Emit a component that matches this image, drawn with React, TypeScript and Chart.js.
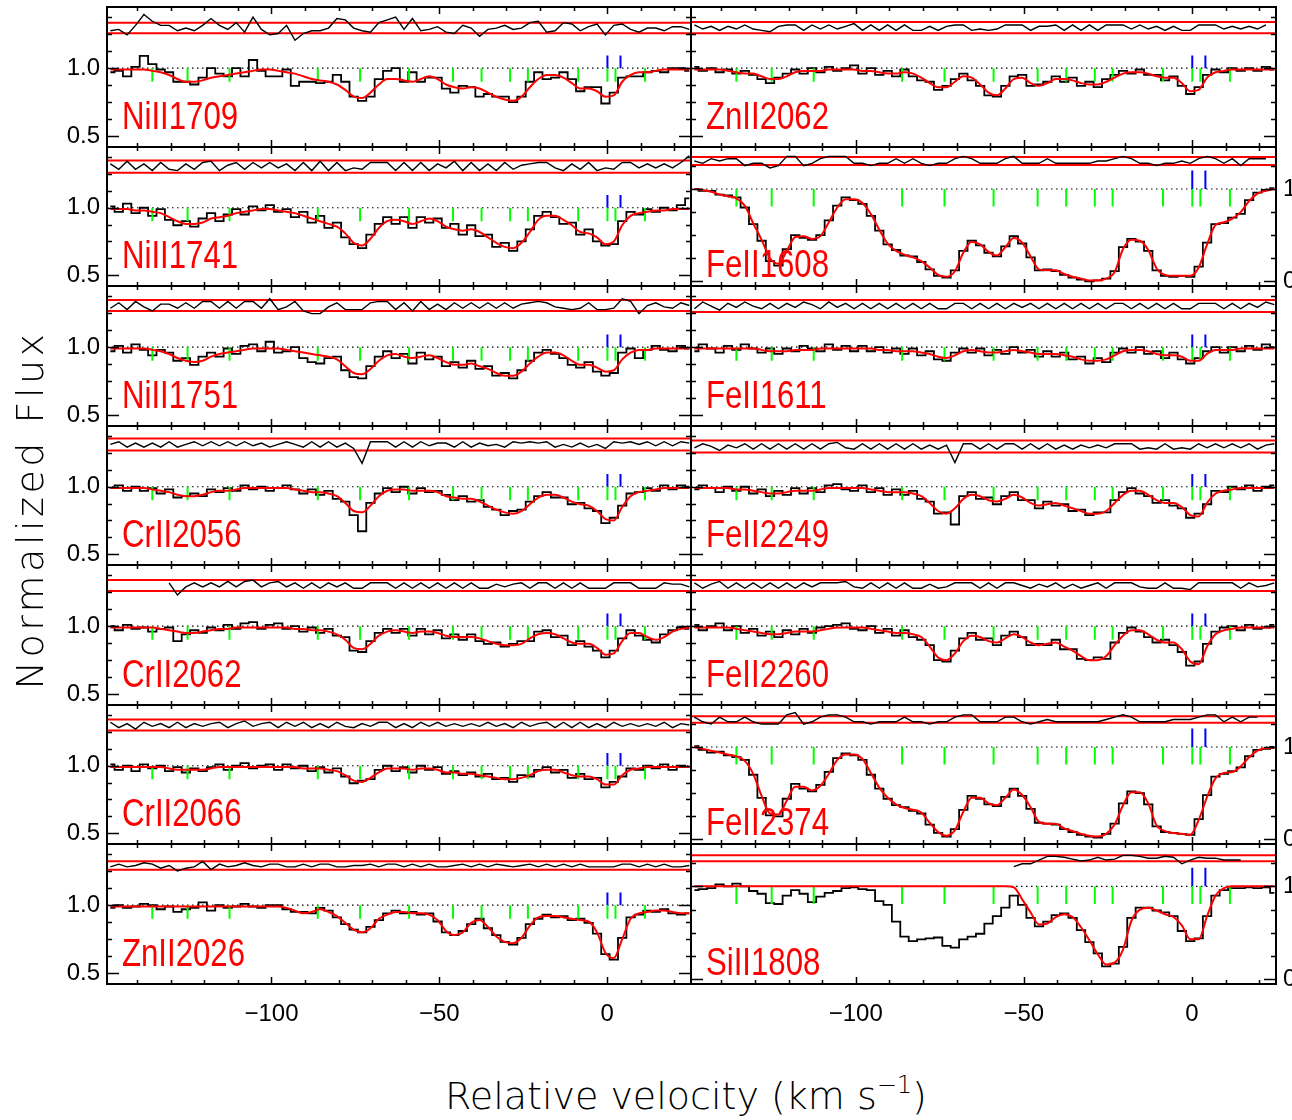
import React, { useEffect, useRef } from "react";
import { Chart, registerables } from "chart.js";

Chart.register(...registerables);

// ---------------- data ----------------
const VELOCITY = [
  -148, -145.5, -143, -140.5, -138, -135.5, -133, -130.5, -128, -125.5,
  -123, -120.5, -118, -115.5, -113, -110.5, -108, -105.5, -103, -100.5,
  -98, -95.5, -93, -90.5, -88, -85.5, -83, -80.5, -78, -75.5,
  -73, -70.5, -68, -65.5, -63, -60.5, -58, -55.5, -53, -50.5,
  -48, -45.5, -43, -40.5, -38, -35.5, -33, -30.5, -28, -25.5,
  -23, -20.5, -18, -15.5, -13, -10.5, -8, -5.5, -3, -0.5,
  2, 4.5, 7, 9.5, 12, 14.5, 17, 19.5, 22, 24.5,
];

const COMPONENT_VELOCITIES = [-135.5, -125, -112.5, -86.2, -73.6, -59, -45.9, -37.4, -28.9, -23.6, -8.6, 0.1, 2.5, 11.3];
const BLUE_VELOCITIES = [0.1, 4.0];

const X_LABEL_TICKS = [-100, -50, 0];
const X_MINOR_TICKS = [-140, -130, -120, -110, -100, -90, -80, -70, -60, -50, -40, -30, -20, -10, 0, 10, 20];
const Y_LABEL_TICKS_NARROW = [0.5, 1.0];
const Y_MINOR_TICKS_NARROW = [0.5, 0.625, 0.75, 0.875, 1.0, 1.125, 1.25, 1.375];
const Y_LABEL_TICKS_WIDE = [0, 1];
const Y_MINOR_TICKS_WIDE = [0, 0.25, 0.5, 0.75, 1, 1.25];

// flux values in percent of the continuum
const NIII1709_FLUX = [
  97, 98, 94, 101, 109, 103, 99, 97, 90, 90,
  88, 93, 100, 96, 94, 100, 94, 106, 98, 94,
  94, 99, 87, 90, 90, 89, 90, 95, 90, 79,
  76, 79, 92, 98, 100, 90, 97, 90, 93, 93,
  85, 82, 87, 86, 79, 81, 79, 79, 75, 79,
  90, 97, 92, 93, 97, 92, 83, 86, 86, 74,
  82, 93, 94, 94, 97, 98, 97, 100, 100, 98,
];
const NIII1709_MODEL = [
  99, 99, 99, 99, 99, 98, 97, 95, 92, 90,
  90, 91, 93, 94, 95, 96, 97, 98, 99, 99,
  98, 97, 96, 94, 92, 91, 90, 88, 84, 79,
  78, 82, 88, 92, 92, 91, 90, 92, 94, 92,
  88, 86, 85, 86, 85, 82, 79, 77, 76, 79,
  86, 92, 95, 95, 93, 89, 85, 85, 83, 79,
  80, 90, 95, 97, 97, 98, 99, 99, 99, 99,
];
const NIII1741_FLUX = [
  101, 97, 103, 96, 100, 94, 99, 91, 87, 90,
  86, 92, 96, 90, 95, 99, 95, 101, 98, 102,
  97, 99, 93, 97, 89, 94, 85, 89, 78, 73,
  70, 80, 88, 93, 88, 93, 85, 93, 89, 92,
  85, 88, 80, 87, 79, 80, 71, 74, 68, 75,
  84, 94, 97, 93, 88, 89, 80, 84, 75, 72,
  73, 90, 97, 95, 99, 97, 100, 98, 102, 107,
];
const NIII1741_MODEL = [
  99, 99, 99, 98, 98, 97, 96, 93, 90, 88,
  88, 89, 92, 93, 94, 96, 97, 98, 99, 99,
  98, 97, 96, 94, 92, 90, 88, 86, 81, 74,
  72, 77, 85, 90, 91, 90, 88, 90, 92, 90,
  86, 84, 83, 84, 82, 78, 74, 71, 70, 74,
  82, 91, 94, 94, 91, 87, 82, 81, 78, 73,
  75, 87, 94, 96, 97, 98, 98, 99, 99, 99,
];
const NIII1751_FLUX = [
  97, 101, 96, 102, 98, 94, 98, 96, 90, 92,
  87, 93, 96, 93, 99, 95, 101, 102, 97, 104,
  96, 97, 100, 92, 89, 88, 92, 93, 83, 78,
  77, 86, 93, 97, 92, 95, 88, 96, 91, 93,
  86, 89, 85, 90, 84, 86, 79, 81, 77, 83,
  90, 96, 98, 95, 92, 87, 85, 89, 82, 79,
  81, 96, 99, 92, 98, 101, 98, 97, 101, 99,
];
const NIII1751_MODEL = [
  99, 99, 99, 99, 99, 98, 97, 95, 92, 90,
  89, 90, 93, 95, 96, 97, 98, 99, 99, 99,
  99, 98, 97, 96, 95, 94, 93, 91, 86, 81,
  80, 84, 90, 94, 95, 93, 92, 93, 94, 92,
  89, 87, 87, 88, 86, 84, 81, 79, 79, 82,
  88, 93, 96, 96, 94, 90, 87, 87, 85, 82,
  83, 91, 96, 98, 98, 99, 99, 99, 99, 99,
];
const CRII2056_FLUX = [
  99, 101, 97, 100, 97, 99, 95, 98, 92, 93,
  95, 93, 98, 96, 99, 97, 101, 98, 100, 97,
  99, 101, 98, 95, 98, 94, 97, 91, 89, 79,
  67, 88, 95, 99, 96, 100, 95, 99, 96, 97,
  94, 90, 93, 89, 90, 85, 83, 79, 82, 83,
  89, 93, 96, 92, 92, 87, 88, 84, 82, 73,
  77, 86, 95, 96, 99, 97, 101, 98, 101, 100,
];
const CRII2056_MODEL = [
  99, 99, 99, 99, 99, 98, 97, 96, 94, 93,
  93, 94, 96, 97, 97, 98, 99, 99, 99, 99,
  99, 99, 98, 97, 96, 96, 95, 93, 88, 82,
  81, 86, 93, 97, 98, 98, 97, 97, 97, 96,
  93, 92, 91, 91, 89, 86, 83, 81, 80, 82,
  87, 92, 94, 94, 92, 89, 87, 86, 82, 76,
  75, 85, 93, 96, 97, 98, 99, 99, 99, 99,
];
const CRII2062_FLUX = [
  100, 97, 101, 98, 99, 96, 98, 99, 89, 94,
  97, 95, 99, 97, 101, 98, 102, 103, 98, 101,
  102, 98, 100, 96, 99, 95, 98, 93, 92, 82,
  81, 89, 95, 98, 95, 98, 93, 98, 94, 97,
  91, 94, 90, 94, 89, 87, 88, 85, 87, 89,
  89, 96, 97, 92, 93, 86, 89, 85, 82, 77,
  82, 91, 97, 93, 90, 88, 94, 97, 99, 98,
];
const CRII2062_MODEL = [
  99, 99, 99, 99, 99, 99, 98, 97, 96, 95,
  95, 96, 97, 98, 98, 99, 99, 99, 99, 99,
  99, 99, 98, 98, 97, 97, 96, 94, 90, 84,
  83, 87, 93, 96, 97, 96, 95, 96, 96, 95,
  93, 92, 92, 92, 91, 89, 87, 86, 86, 87,
  91, 94, 95, 94, 91, 88, 87, 87, 84, 79,
  80, 89, 95, 95, 92, 90, 92, 96, 98, 99,
];
const CRII2066_FLUX = [
  101, 97, 100, 96, 101, 98, 100, 96, 99, 95,
  98, 96, 99, 101, 97, 100, 102, 98, 100, 101,
  97, 101, 98, 100, 96, 99, 95, 98, 92, 87,
  89, 90, 97, 100, 96, 99, 95, 100, 97, 99,
  94, 96, 93, 95, 92, 94, 90, 91, 88, 93,
  92, 97, 99, 95, 97, 91, 94, 90, 91, 84,
  88, 92, 98, 97, 100, 98, 101, 97, 100, 99,
];
const CRII2066_MODEL = [
  99, 99, 99, 99, 99, 99, 99, 98, 97, 97,
  97, 97, 98, 99, 99, 99, 99, 99, 99, 99,
  99, 99, 99, 98, 98, 98, 97, 96, 93, 89,
  88, 91, 95, 98, 98, 98, 97, 98, 98, 97,
  95, 95, 94, 94, 93, 92, 91, 90, 90, 91,
  93, 96, 97, 97, 95, 93, 92, 92, 90, 86,
  86, 93, 97, 98, 99, 99, 99, 99, 99, 99,
];
const ZNII2026_FLUX = [
  98, 100, 98, 99, 101, 100, 97, 99, 95, 97,
  98, 102, 96, 100, 98, 99, 101, 99, 98, 100,
  100, 97, 95, 95, 94, 98, 96, 91, 86, 82,
  80, 84, 89, 94, 96, 94, 95, 93, 94, 88,
  80, 78, 81, 86, 90, 83, 78, 73, 71, 76,
  86, 90, 93, 91, 92, 89, 90, 87, 79, 64,
  60, 76, 91, 93, 96, 95, 97, 94, 93, 94,
];
const ZNII2026_MODEL = [
  99, 99, 99, 99, 99, 99, 99, 99, 99, 99,
  99, 99, 99, 99, 99, 99, 99, 99, 99, 99,
  99, 98, 96, 94, 95, 97, 95, 92, 87, 82,
  80, 83, 90, 93, 95, 95, 94, 94, 93, 89,
  81, 78, 80, 87, 89, 84, 77, 73, 72, 76,
  85, 91, 92, 92, 91, 90, 89, 88, 80, 65,
  61, 75, 90, 94, 95, 96, 96, 95, 94, 94,
];
const ZNII2062_FLUX = [
  101, 98, 100, 97, 99, 96, 98, 95, 92, 89,
  93, 96, 99, 96, 100, 97, 101, 98, 100, 102,
  96, 100, 95, 98, 94, 99, 94, 91, 90, 84,
  87, 92, 96, 91, 87, 80, 79, 87, 94, 95,
  87, 88, 90, 94, 90, 93, 87, 90, 86, 92,
  95, 98, 96, 99, 95, 95, 91, 94, 87, 81,
  86, 95, 99, 97, 100, 98, 100, 98, 101, 99,
];
const ZNII2062_MODEL = [
  99, 99, 99, 99, 98, 97, 96, 96, 94, 92,
  92, 94, 97, 98, 98, 98, 99, 99, 99, 99,
  98, 98, 97, 96, 96, 97, 96, 93, 89, 86,
  86, 90, 94, 93, 88, 82, 80, 85, 92, 93,
  89, 87, 89, 92, 92, 91, 89, 88, 88, 90,
  93, 96, 97, 97, 96, 94, 93, 93, 89, 83,
  84, 93, 97, 98, 99, 99, 99, 99, 99, 99,
];
const FEII1608_FLUX = [
  100, 98, 98, 94, 93, 91, 80, 62, 44, 22,
  17, 35, 50, 47, 45, 50, 66, 82, 91, 88,
  84, 71, 55, 40, 34, 28, 27, 21, 13, 6,
  4, 12, 33, 44, 39, 31, 27, 38, 49, 41,
  26, 12, 13, 11, 7, 4, 2, 0, 1, 3,
  11, 37, 46, 43, 33, 12, 6, 5, 6, 5,
  16, 42, 62, 63, 69, 73, 88, 96, 99, 101,
];
const FEII1608_MODEL = [
  100, 99, 97, 94, 92, 90, 82, 63, 45, 25,
  19, 33, 48, 49, 46, 49, 64, 80, 89, 89,
  85, 73, 56, 41, 33, 29, 26, 22, 15, 7,
  5, 11, 31, 43, 40, 32, 28, 37, 47, 42,
  27, 13, 12, 12, 8, 5, 3, 1, 1, 3,
  10, 35, 45, 44, 34, 14, 7, 6, 6, 6,
  15, 40, 61, 64, 68, 75, 87, 95, 98, 100,
];
const FEII1611_FLUX = [
  97, 102, 99, 96, 101, 98, 102, 99, 96, 99,
  95, 99, 97, 101, 99, 97, 102, 98, 101, 97,
  101, 97, 100, 96, 99, 95, 99, 94, 97, 91,
  90, 96, 99, 96, 99, 94, 98, 95, 100, 96,
  98, 93, 97, 93, 96, 91, 93, 88, 92, 89,
  96, 99, 96, 100, 95, 97, 92, 96, 91, 88,
  92, 97, 100, 96, 100, 97, 101, 98, 102, 100,
];
const FEII1611_MODEL = [
  99, 99, 99, 99, 99, 99, 99, 99, 98, 97,
  97, 97, 98, 98, 98, 99, 99, 99, 99, 99,
  99, 99, 98, 98, 97, 97, 97, 96, 95, 93,
  92, 94, 97, 98, 97, 96, 96, 97, 98, 97,
  96, 95, 95, 95, 94, 93, 91, 90, 90, 91,
  94, 97, 98, 98, 97, 95, 94, 94, 93, 90,
  90, 95, 98, 98, 98, 99, 99, 99, 99, 99,
];
const FEII2249_FLUX = [
  98, 101, 99, 96, 100, 97, 100, 95, 98, 93,
  97, 94, 99, 95, 99, 96, 101, 102, 98, 97,
  101, 96, 99, 94, 98, 94, 97, 91, 89, 80,
  81, 72, 93, 96, 91, 92, 87, 93, 96, 90,
  90, 84, 89, 86, 87, 82, 83, 79, 81, 81,
  90, 96, 99, 95, 93, 88, 90, 86, 84, 77,
  80, 87, 97, 96, 100, 98, 101, 97, 100, 101,
];
const FEII2249_MODEL = [
  99, 99, 99, 99, 99, 98, 98, 97, 96, 95,
  95, 96, 97, 97, 97, 98, 99, 99, 99, 99,
  99, 98, 97, 96, 96, 96, 95, 93, 88, 82,
  80, 84, 91, 94, 93, 90, 89, 91, 94, 92,
  88, 86, 87, 88, 86, 84, 82, 80, 80, 82,
  88, 94, 97, 97, 94, 90, 88, 88, 85, 79,
  78, 88, 95, 97, 98, 99, 99, 99, 99, 99,
];
const FEII2260_FLUX = [
  101, 97, 100, 102, 97, 100, 95, 98, 93, 96,
  92, 97, 94, 98, 95, 99, 100, 101, 102, 98,
  97, 100, 95, 98, 93, 97, 92, 90, 86, 75,
  74, 82, 91, 95, 90, 91, 86, 93, 96, 92,
  86, 87, 86, 90, 83, 83, 76, 75, 77, 76,
  88, 95, 99, 96, 92, 88, 90, 86, 81, 71,
  74, 87, 96, 99, 100, 97, 101, 98, 99, 101,
];
const FEII2260_MODEL = [
  99, 99, 99, 99, 99, 98, 97, 96, 95, 94,
  94, 95, 96, 96, 96, 97, 98, 99, 99, 99,
  99, 98, 97, 96, 95, 95, 94, 92, 85, 77,
  75, 80, 89, 93, 92, 89, 88, 91, 94, 92,
  88, 86, 87, 88, 85, 82, 78, 75, 75, 78,
  86, 93, 97, 97, 94, 90, 88, 88, 83, 74,
  72, 85, 94, 97, 98, 99, 99, 99, 99, 99,
];
const FEII2374_FLUX = [
  101, 97, 94, 95, 91, 89, 86, 70, 45, 26,
  25, 44, 60, 55, 52, 59, 73, 88, 93, 91,
  86, 70, 55, 44, 37, 35, 31, 28, 16, 7,
  3, 11, 32, 47, 44, 38, 36, 46, 55, 47,
  33, 18, 17, 16, 11, 8, 5, 3, 2, 6,
  17, 39, 52, 50, 38, 14, 8, 7, 6, 5,
  22, 48, 68, 71, 74, 78, 90, 97, 98, 100,
];
const FEII2374_MODEL = [
  100, 98, 96, 94, 92, 90, 85, 71, 47, 28,
  27, 42, 57, 57, 53, 58, 71, 86, 92, 92,
  87, 72, 56, 45, 38, 34, 32, 29, 18, 8,
  4, 10, 30, 45, 45, 39, 37, 45, 54, 48,
  35, 19, 17, 17, 12, 9, 6, 4, 3, 6,
  16, 37, 51, 51, 39, 15, 9, 7, 6, 5,
  21, 46, 66, 72, 73, 79, 89, 96, 99, 99,
];
const SIII1808_FLUX = [
  96, 97, 98, 102, 100, 103, 100, 95, 92, 82,
  81, 90, 96, 92, 83, 89, 93, 95, 98, 99,
  97, 96, 84, 80, 62, 46, 41, 43, 44, 45,
  36, 34, 43, 46, 49, 60, 68, 77, 90, 80,
  66, 57, 62, 69, 71, 66, 53, 40, 28, 14,
  17, 35, 66, 77, 77, 74, 72, 68, 52, 41,
  44, 68, 90, 96, 98, 98, 99, 98, 99, 93,
];
const SIII1808_MODEL = [
  100, 100, 100, 100, 100, 100, 100, 100, 100, 100,
  100, 100, 100, 100, 100, 100, 100, 100, 100, 100,
  100, 100, 100, 100, 100, 100, 100, 100, 100, 100,
  100, 100, 100, 100, 100, 100, 100, 100, 99, 86,
  72, 59, 60, 67, 70, 67, 56, 42, 27, 16,
  18, 32, 63, 75, 77, 74, 70, 67, 58, 43,
  43, 68, 90, 98, 100, 100, 100, 100, 100, 100,
];

const PANEL_LABELS = [
  "NiII1709", "NiII1741", "NiII1751", "CrII2056", "CrII2062", "CrII2066", "ZnII2026",
  "ZnII2062", "FeII1608", "FeII1611", "FeII2249", "FeII2260", "FeII2374", "SiII1808",
];
const PANEL_FLUX = [
  NIII1709_FLUX, NIII1741_FLUX, NIII1751_FLUX, CRII2056_FLUX, CRII2062_FLUX, CRII2066_FLUX, ZNII2026_FLUX,
  ZNII2062_FLUX, FEII1608_FLUX, FEII1611_FLUX, FEII2249_FLUX, FEII2260_FLUX, FEII2374_FLUX, SIII1808_FLUX,
];
const PANEL_MODEL = [
  NIII1709_MODEL, NIII1741_MODEL, NIII1751_MODEL, CRII2056_MODEL, CRII2062_MODEL, CRII2066_MODEL, ZNII2026_MODEL,
  ZNII2062_MODEL, FEII1608_MODEL, FEII1611_MODEL, FEII2249_MODEL, FEII2260_MODEL, FEII2374_MODEL, SIII1808_MODEL,
];
const RESID_LOW = [1.256, 1.26, 1.266, 1.269, 1.258, 1.261, 1.26, 1.257, 1.259, 1.258, 1.254, 1.258, 1.263, 1.27];
const RESID_HIGH = [1.334, 1.35, 1.347, 1.358, 1.34, 1.343, 1.324, 1.339, 1.348, 1.347, 1.343, 1.34, 1.334, 1.335];
const RESID_SCALE = [1, 1, 1, 1, 1, 1, 1, 1, 2.5, 1, 1, 1, 2.5, 1];
const RESID_FIRST = [0, 0, 0, 0, 7, 0, 0, 0, 0, 0, 0, 0, 0, 38];
const RESID_LAST = [69, 69, 69, 69, 69, 69, 69, 68, 68, 69, 69, 69, 67, 65];

// ---------------- layout ----------------
const PANEL_COL = [0, 0, 0, 0, 0, 0, 0, 1, 1, 1, 1, 1, 1, 1];
const PANEL_ROW = [0, 1, 2, 3, 4, 5, 6, 0, 1, 2, 3, 4, 5, 6];
const PANEL_WIDE = [false, false, false, false, false, false, false, false, true, false, false, false, true, true];

const X_MIN = -149;
const X_MAX = 25;
const NARROW_RANGE = [0.42, 1.45];
const WIDE_RANGE = [-0.05, 1.455];
const ML = 70, MR = 30, MT = 30, MB = 60;
const COL_LEFT = [107, 691];
const COL_WIDTH = [584, 585];
const ROW_TOP = [7, 147, 286, 426, 565, 705, 844, 984];
const LABEL_VELOCITY = -144.6;
const LABEL_FLUX_NARROW = 0.55;
const LABEL_FLUX_WIDE = 0.05;
const LABEL_SIZE = 38;
const TITLE_SIZE = 38;
const TICK_FONT = { family: "'Liberation Sans', Arial, Helvetica, sans-serif", size: 24 };
const RED = "#ff0000";
const GREEN = "#00ff00";
const BLUE = "#0000ff";

function minusLabel(v: number): string {
  return v < 0 ? "\u2212" + Math.abs(v) : String(v);
}

function Panel({ index }: { index: number }) {
  const ref = useRef<HTMLCanvasElement | null>(null);
  const col = PANEL_COL[index];
  const row = PANEL_ROW[index];
  const wide = PANEL_WIDE[index];
  const w = COL_WIDTH[col];
  const h = ROW_TOP[row + 1] - ROW_TOP[row];
  const W = ML + w + MR;
  const H = MT + h + MB;

  useEffect(() => {
    const flux = PANEL_FLUX[index];
    const model = PANEL_MODEL[index];
    const [yMin, yMax] = wide ? WIDE_RANGE : NARROW_RANGE;
    const toPoints = (arr: number[]) => VELOCITY.map((v, k) => ({ x: v, y: arr[k] / 100 }));
    const center = (RESID_LOW[index] + RESID_HIGH[index]) / 2;
    const residual = VELOCITY.map((v, k) => ({
      x: v,
      y: k >= RESID_FIRST[index] && k <= RESID_LAST[index]
        ? center + (RESID_SCALE[index] * (flux[k] - model[k])) / 100
        : null,
    }));
    const hline = (y: number) => [{ x: X_MIN, y }, { x: X_MAX, y }];
    const marks = (vs: number[], y0: number, y1: number) =>
      vs.flatMap((v) => [{ x: v, y: y0 }, { x: v, y: y1 }, { x: v, y: null as any }]);
    const gLen = wide ? 0.19 : 0.1;
    const bLen = wide ? 0.2 : 0.094;
    const yLabelTicks = wide ? Y_LABEL_TICKS_WIDE : Y_LABEL_TICKS_NARROW;
    const yMinorTicks = wide ? Y_MINOR_TICKS_WIDE : Y_MINOR_TICKS_NARROW;

    const base = { pointRadius: 0, pointHoverRadius: 0, fill: false };
    const noGrid = { display: false, drawTicks: false, tickLength: 0 };

    const framePlugin = {
      id: "panelFrame",
      afterDatasetsDraw(c: any) {
        const { ctx, chartArea: a } = c;
        const xs = c.scales.x;
        const ys = c.scales.y;
        ctx.save();
        ctx.strokeStyle = "#000";
        ctx.lineWidth = 1.5;
        ctx.beginPath();
        X_MINOR_TICKS.forEach((v) => {
          const px = Math.round(xs.getPixelForValue(v)) + 0.5;
          const len = X_LABEL_TICKS.includes(v) ? 7 : 4;
          ctx.moveTo(px, a.bottom);
          ctx.lineTo(px, a.bottom - len);
          ctx.moveTo(px, a.top);
          ctx.lineTo(px, a.top + len);
        });
        yMinorTicks.forEach((v) => {
          if (v < yMin || v > yMax) return;
          const py = Math.round(ys.getPixelForValue(v)) + 0.5;
          const len = yLabelTicks.includes(v) ? 12 : 5;
          ctx.moveTo(a.left, py);
          ctx.lineTo(a.left + len, py);
          ctx.moveTo(a.right, py);
          ctx.lineTo(a.right - len, py);
        });
        ctx.stroke();
        ctx.lineWidth = 2;
        ctx.strokeRect(a.left, a.top, a.right - a.left, a.bottom - a.top);
        ctx.restore();
      },
    };

    const chart = new Chart(ref.current as HTMLCanvasElement, {
      type: "line",
      data: {
        datasets: [
          { ...base, data: toPoints(model), borderColor: RED, borderWidth: 2, cubicInterpolationMode: "monotone" },
          { ...base, data: marks(COMPONENT_VELOCITIES, 1, 1 - gLen), borderColor: GREEN, borderWidth: 2 },
          { ...base, data: marks(BLUE_VELOCITIES, 1, 1 + bLen), borderColor: BLUE, borderWidth: 2 },
          { ...base, data: toPoints(flux), borderColor: "#000", borderWidth: 1.8, stepped: "middle" },
          { ...base, data: residual, borderColor: "#000", borderWidth: 1.4 },
          { ...base, data: hline(RESID_LOW[index]), borderColor: RED, borderWidth: 2 },
          { ...base, data: hline(RESID_HIGH[index]), borderColor: RED, borderWidth: 2 },
          { ...base, data: hline(1), borderColor: "#000", borderWidth: 1.2, borderDash: [1.5, 3.5] },
        ] as any,
      },
      options: {
        responsive: false,
        animation: false,
        devicePixelRatio: 1,
        events: [],
        layout: { padding: { top: MT, left: 0, right: 0, bottom: 0 } },
        plugins: { legend: { display: false }, tooltip: { enabled: false } },
        scales: {
          x: {
            type: "linear",
            min: X_MIN,
            max: X_MAX,
            grid: noGrid,
            border: { display: false },
            ticks: {
              display: row === 6,
              font: TICK_FONT,
              color: "#000",
              padding: 16,
              maxRotation: 0,
              autoSkip: false,
              callback: (v: any) => minusLabel(Number(v)),
            },
            afterBuildTicks: (s: any) => {
              s.ticks = X_LABEL_TICKS.map((value) => ({ value }));
            },
            afterFit: (s: any) => {
              s.height = MB;
            },
          },
          y: {
            type: "linear",
            position: "left",
            min: yMin,
            max: yMax,
            grid: noGrid,
            border: { display: false },
            ticks: {
              display: col === 0,
              font: TICK_FONT,
              color: "#000",
              padding: 7,
              callback: (v: any) => Number(v).toFixed(1),
            },
            afterBuildTicks: (s: any) => {
              s.ticks = yLabelTicks.map((value) => ({ value }));
            },
            afterFit: (s: any) => {
              s.width = ML;
            },
          },
          y2: {
            type: "linear",
            position: "right",
            min: yMin,
            max: yMax,
            grid: noGrid,
            border: { display: false },
            ticks: {
              display: wide,
              font: TICK_FONT,
              color: "#000",
              padding: 7,
              callback: (v: any) => String(v),
            },
            afterBuildTicks: (s: any) => {
              s.ticks = Y_LABEL_TICKS_WIDE.map((value) => ({ value }));
            },
            afterFit: (s: any) => {
              s.width = MR;
            },
          },
        },
      } as any,
      plugins: [framePlugin],
    });
    return () => chart.destroy();
  }, [index]);

  return (
    <canvas
      ref={ref}
      width={W}
      height={H}
      style={{ position: "absolute", left: COL_LEFT[col] - ML, top: ROW_TOP[row] - MT, width: W, height: H }}
    />
  );
}

function PanelLabel({ index }: { index: number }) {
  const col = PANEL_COL[index];
  const row = PANEL_ROW[index];
  const wide = PANEL_WIDE[index];
  const w = COL_WIDTH[col];
  const h = ROW_TOP[row + 1] - ROW_TOP[row];
  const [yMin, yMax] = wide ? WIDE_RANGE : NARROW_RANGE;
  const lf = wide ? LABEL_FLUX_WIDE : LABEL_FLUX_NARROW;
  const left = COL_LEFT[col] + ((LABEL_VELOCITY - X_MIN) / (X_MAX - X_MIN)) * w;
  const baseline = ROW_TOP[row] + ((yMax - lf) / (yMax - yMin)) * h;
  return (
    <div
      style={{
        position: "absolute",
        left,
        top: baseline - 0.8465 * LABEL_SIZE,
        fontFamily: "'Liberation Sans', Arial, Helvetica, sans-serif",
        fontSize: LABEL_SIZE,
        lineHeight: 1,
        color: RED,
        whiteSpace: "nowrap",
        transform: "scaleX(0.82)",
        transformOrigin: "0 0",
      }}
    >
      {PANEL_LABELS[index]}
    </div>
  );
}

export default function App() {
  const titleFont = "'DejaVu Sans', Verdana, sans-serif";
  return (
    <div
      style={{
        position: "absolute",
        left: 0,
        top: 0,
        width: 1292,
        height: 1120,
        overflow: "hidden",
        background: "#fff",
      }}
    >
      {PANEL_LABELS.map((_, i) => (
        <Panel key={"p" + i} index={i} />
      ))}
      {PANEL_LABELS.map((_, i) => (
        <PanelLabel key={"l" + i} index={i} />
      ))}
      <div
        style={{
          position: "absolute",
          left: 30 - 300,
          top: 510 - TITLE_SIZE / 2,
          width: 600,
          height: TITLE_SIZE,
          fontFamily: titleFont,
          fontWeight: 200,
          fontSize: TITLE_SIZE,
          lineHeight: 1,
          letterSpacing: 3.5,
          textAlign: "center",
          whiteSpace: "nowrap",
          color: "#000",
          transform: "rotate(-90deg)",
          transformOrigin: "50% 50%",
        }}
      >
        Normalized Flux
      </div>
      <div
        style={{
          position: "absolute",
          left: 686 - 400,
          top: 1109 - 0.846 * TITLE_SIZE,
          width: 800,
          fontFamily: titleFont,
          fontWeight: 200,
          fontSize: TITLE_SIZE,
          lineHeight: 1,
          letterSpacing: 0,
          textAlign: "center",
          whiteSpace: "nowrap",
          color: "#000",
        }}
      >
        Relative velocity (km s
        <span style={{ fontSize: 24, position: "relative", top: -16, lineHeight: 0 }}>{"\u22121"}</span>)
      </div>
    </div>
  );
}
